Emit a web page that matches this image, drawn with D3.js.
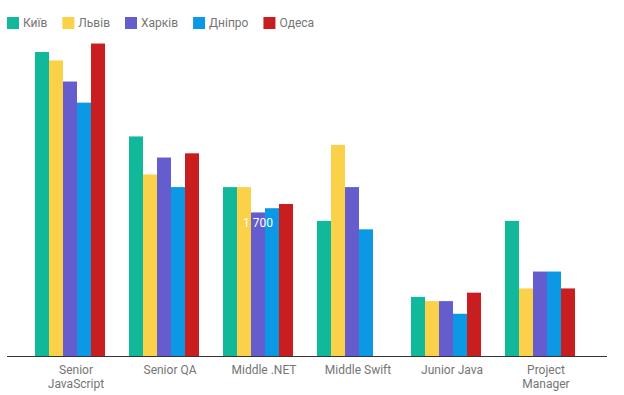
<!DOCTYPE html>
<html>
<head>
<meta charset="utf-8">
<script src="https://cdn.jsdelivr.net/npm/d3@7"></script>
<style>
  body { margin: 0; background: #fff; }
  text { font-family: Roboto, "Noto Sans", Arial, sans-serif; }
</style>
</head>
<body>
<div id="chart"></div>
<script>
// positions, one row per city
var positions = ["Senior JavaScript", "Senior QA", "Middle .NET", "Middle Swift", "Junior Java", "Project Manager"];
var cities = ["Київ", "Львів", "Харків", "Дніпро", "Одеса"];
var colors = ["#12b89a", "#fcd14a", "#655ccd", "#0b98e5", "#c91e1f"];

var kyiv   = [3600, 2600, 2000, 1600, 700, 1600];
var lviv   = [3500, 2150, 2000, 2500, 650, 800];
var kharkiv = [3250, 2350, 1700, 2000, 650, 1000];
var dnipro = [3000, 2000, 1750, 1500, 500, 1000];
var odesa  = [3700, 2400, 1800, 0, 750, 800];

// the one value label shown (Харків, Middle .NET)
var labelCity = 2, labelPos = 2;

var series = [kyiv, lviv, kharkiv, dnipro, odesa];

var width = 624, height = 395;
var baseY = 356;

var svg = d3.select("#chart").append("svg")
    .attr("width", width)
    .attr("height", height);

var x0 = d3.scaleBand()
    .domain(positions)
    .range([23, 587])
    .paddingInner(0.255)
    .paddingOuter(0.1275);

var x1 = d3.scaleBand()
    .domain(d3.range(cities.length))
    .range([0, x0.bandwidth()]);

var y = d3.scaleLinear()
    .domain([0, 4000])
    .range([baseY, baseY - 337.8]);

// legend
var legend = svg.append("g").attr("class", "legend");
var lx = 7;
cities.forEach(function(c, i) {
  var g = legend.append("g").attr("transform", "translate(" + lx + ",0)");
  g.append("rect")
    .attr("x", 0).attr("y", 17)
    .attr("width", 12).attr("height", 12)
    .attr("fill", colors[i]);
  var t = g.append("text")
    .attr("x", 16).attr("y", 27)
    .attr("font-size", 12)
    .attr("fill", "#757575")
    .text(c);
  lx += 16 + t.node().getComputedTextLength() + 15;
});

// bars
var groups = svg.selectAll(".grp")
  .data(positions)
  .enter().append("g")
  .attr("class", "grp")
  .attr("transform", function(d) { return "translate(" + x0(d) + ",0)"; });

groups.selectAll("rect")
  .data(function(d, pi) { return series.map(function(s, ci) { return {ci: ci, v: s[pi]}; }); })
  .enter().append("rect")
  .attr("x", function(d) { return x1(d.ci); })
  .attr("y", function(d) { return y(d.v); })
  .attr("width", x1.bandwidth())
  .attr("height", function(d) { return baseY - y(d.v); })
  .attr("fill", function(d) { return colors[d.ci]; });

// value label
var lv = series[labelCity][labelPos];
svg.append("text")
  .attr("x", x0(positions[labelPos]) + x1(labelCity) + x1.bandwidth() / 2)
  .attr("y", y(lv) + 15)
  .attr("text-anchor", "middle")
  .attr("font-size", 12)
  .attr("fill", "#fff")
  .text(d3.format(",")(lv).replace(",", " "));

// baseline
svg.append("line")
  .attr("x1", 7).attr("x2", 607)
  .attr("y1", baseY + 0.5).attr("y2", baseY + 0.5)
  .attr("stroke", "#333")
  .attr("stroke-width", 1);

// category labels (two lines where they wrap)
var wrap = {"Senior JavaScript": ["Senior", "JavaScript"], "Project Manager": ["Project", "Manager"]};
var labels = svg.selectAll(".cat")
  .data(positions)
  .enter().append("text")
  .attr("class", "cat")
  .attr("text-anchor", "middle")
  .attr("font-size", 12)
  .attr("fill", "#757575")
  .attr("transform", function(d) { return "translate(" + (x0(d) + x0.bandwidth() / 2 + 6) + ",374)"; });

labels.each(function(d) {
  var lines = wrap[d] || [d];
  var t = d3.select(this);
  lines.forEach(function(l, i) {
    t.append("tspan").attr("x", 0).attr("dy", i ? 14 : 0).text(l);
  });
});
</script>
</body>
</html>
